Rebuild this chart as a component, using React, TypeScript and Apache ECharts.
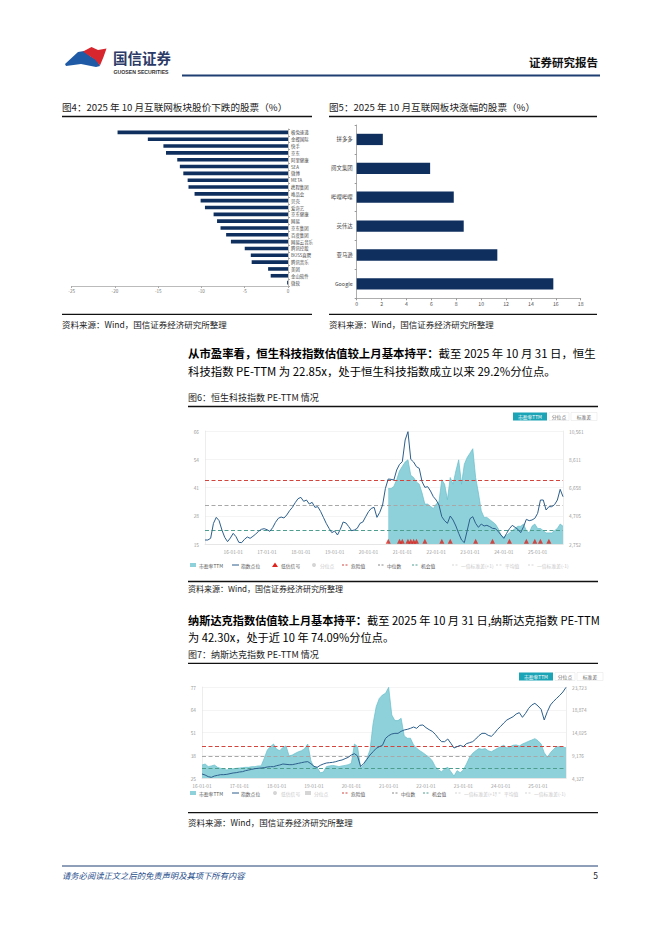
import React, { useEffect, useRef } from "react";
import * as echarts from "echarts";

const FONT = '"Noto Sans CJK SC", "Noto Sans", sans-serif';

// ---------- Figure 4 ----------
const fig4Names = ["极兔速递", "金蝶国际", "快手", "京东", "阿里健康", "SEA", "微博", "META", "携程集团", "唯品会", "贝壳", "爱奇艺", "京东健康", "网易", "京东集团", "百度集团", "网易云音乐", "腾讯控股", "BOSS直聘", "腾讯音乐", "美团", "金山软件", "微软"];
const fig4Values = [-19.7, -16.2, -14.4, -14.1, -12.8, -12.5, -12.1, -11.6, -11.5, -10.8, -10.1, -9.6, -8.6, -8.2, -7.8, -7.15, -6.6, -5.0, -4.3, -4.2, -2.3, -2.0, -0.1];

// ---------- Figure 5 ----------
const fig5Names = ["拼多多", "阅文集团", "哔哩哔哩", "英伟达", "亚马逊", "Google"];
const fig5Values = [2.1, 5.9, 7.8, 8.6, 11.3, 15.8];

// ---------- Figure 6 (HSTECH, monthly from 2015-03) ----------
const hstStartYear = 2015;
const hstStartMonth = 3;
const hstIndex = [3028, 3028, 3144, 4180, 4594, 4364, 3719, 3213, 2913, 3167, 3489, 3259, 2867, 2844, 3074, 3236, 3144, 3282, 3443, 3627, 3765, 3811, 3742, 3627, 3880, 4249, 4525, 4617, 4548, 4756, 5055, 5285, 5608, 5884, 5976, 5700, 5792, 5516, 5631, 5285, 5331, 5009, 4594, 4180, 3834, 3535, 3650, 3374, 3765, 4272, 4203, 3950, 3673, 3719, 3834, 4180, 4272, 4640, 4986, 5216, 5285, 4594, 4940, 5447, 6598, 7243, 7220, 7174, 7865, 8256, 8440, 9937, 10513, 8602, 8417, 8095, 7980, 7059, 6667, 6713, 6414, 6022, 5792, 5447, 4640, 4364, 4180, 4687, 4410, 3996, 3489, 3028, 2844, 3673, 4502, 4640, 4180, 3904, 4134, 3996, 4042, 3950, 3834, 3811, 3627, 3374, 3144, 3489, 3811, 4042, 3904, 3765, 3535, 3950, 4456, 4364, 4410, 4525, 4871, 5792, 5792, 5101, 5331, 5331, 5469, 5792, 6529, 6022];
const hstPEStart = "20-08";
const hstPE = [40, 40, 41, 44, 48, 50, 52, 53, 46, 45, 43, 42, 38, 33, 33, 32, 31, 33, 34, 44, 42, 35, 45, 42, 48, 53, 42, 51, 54, 56, 58, 45, 38, 30, 27, 27, 26, 25, 24, 22, 19, 18, 19, 20, 21, 22, 23, 23, 24, 21, 20, 23, 24, 22, 22, 21, 20, 20, 20, 21, 22, 24, 23];
const hstSignals = ["20-08", "20-12", "21-01", "21-03", "21-04", "21-05", "21-06", "21-09", "22-03", "22-06", "23-03", "23-09", "24-03", "24-09", "24-12", "25-02", "25-05"];
const hstLeftLabels = ["15", "28", "41", "54", "66"];
const hstRightLabels = ["2,752", "4,705", "6,658", "8,611", "10,561"];
const hstDanger = 43.6;
const hstMedian = 32.5;
const hstChance = 21.3;

// ---------- Figure 7 (Nasdaq, monthly from 2016-01) ----------
const ndqStartYear = 2016;
const ndqStartMonth = 1;
const ndqIndex = [5180, 4966, 4611, 4469, 4753, 4895, 5038, 5038, 5109, 5251, 5393, 5464, 5606, 5677, 5890, 6032, 6174, 6316, 6387, 6459, 6530, 6672, 6743, 6743, 6956, 7098, 7311, 7240, 7169, 7169, 7311, 7453, 7595, 7737, 7808, 7382, 6814, 6601, 7027, 7311, 7524, 7595, 7666, 7808, 8022, 8164, 8448, 8732, 9230, 9514, 9016, 6743, 7453, 8306, 9230, 9940, 10650, 11006, 11290, 12782, 13351, 13706, 13848, 13848, 14274, 14558, 14700, 14913, 15197, 14913, 15553, 15624, 15056, 14629, 14274, 13634, 12782, 12072, 12072, 12640, 11716, 10722, 11006, 11290, 11006, 11645, 11858, 12072, 12640, 13351, 13848, 13848, 13421, 13208, 13848, 14700, 15340, 16050, 16690, 17046, 17400, 17969, 18253, 17258, 18111, 19177, 19888, 20242, 19674, 18963, 16690, 18466, 19888, 20669, 21308, 21947, 22658, 23653];
const ndqPE = [32.4, 33.0, 31.5, 31.9, 32.4, 31.1, 30.5, 30.0, 29.6, 30.0, 30.3, 30.5, 30.7, 30.9, 31.1, 31.1, 31.5, 31.5, 31.9, 31.9, 36.2, 41.0, 42.9, 44.4, 41.4, 40.6, 42.5, 43.3, 37.6, 38.1, 39.1, 40.0, 40.6, 41.8, 44.4, 34.9, 31.1, 31.1, 28.0, 28.4, 31.5, 31.9, 32.2, 31.9, 31.5, 31.9, 32.2, 32.6, 33.4, 44.4, 42.9, 30.5, 32.4, 36.2, 41.0, 56.2, 65.8, 70.5, 72.4, 73.4, 76.8, 61.0, 57.8, 57.8, 59.1, 49.0, 47.7, 47.7, 43.9, 42.0, 40.6, 39.5, 38.1, 36.8, 34.9, 31.5, 29.6, 28.6, 30.3, 31.1, 28.6, 26.1, 29.2, 28.0, 29.6, 33.0, 36.8, 39.1, 40.6, 41.8, 41.4, 41.8, 40.6, 40.0, 41.0, 42.0, 42.9, 43.7, 42.1, 42.9, 43.7, 43.9, 43.3, 44.4, 45.2, 46.0, 46.7, 47.5, 46.3, 44.4, 39.5, 36.8, 39.5, 41.4, 42.9, 42.9, 42.5, 42.3];
const ndqLeftLabels = ["25", "38", "51", "64", "77"];
const ndqRightLabels = ["4,327", "9,176", "14,025", "18,874", "23,723"];
const ndqDanger = 43.3;
const ndqMedian = 37.6;
const ndqChance = 30.3;

function monthCats(y0: number, m0: number, n: number): string[] {
  const out: string[] = [];
  let y = y0, m = m0;
  for (let i = 0; i < n; i++) {
    out.push(String(y % 100).padStart(2, "0") + "-" + String(m).padStart(2, "0"));
    m++;
    if (m > 12) { m = 1; y++; }
  }
  return out;
}

const TEAL_FILL = "#8fd1da";
const TEAL_LINE = "#66bfcb";
const INDEX_LINE = "#2c5f8c";
const RED_D = "#d2443c";
const GRAY_D = "#a8a8a8";
const GREEN_D = "#4e9e90";

function txt(x: number, y: number, text: string, size: number, opts: any = {}) {
  return {
    type: "text",
    silent: true,
    style: {
      x, y, text,
      fontSize: size,
      fontFamily: opts.family || FONT,
      fontWeight: opts.weight || "normal",
      fontStyle: opts.style || "normal",
      fill: opts.fill || "#222",
      align: opts.align || "left",
      verticalAlign: "middle",
    },
  };
}
function hline(x1: number, x2: number, y: number, color: string, w: number) {
  return { type: "line", silent: true, shape: { x1, y1: y, x2, y2: y }, style: { stroke: color, lineWidth: w } };
}

type LegItem = { x: number; kind: string; color: string; text: string; faded?: boolean };
function legend(y: number, items: LegItem[]) {
  const els: any[] = [];
  items.forEach((it) => {
    const c = it.faded ? "#d5d5d5" : it.color;
    if (it.kind === "rect") {
      els.push({ type: "rect", silent: true, shape: { x: it.x, y: y - 2, width: 6, height: 4 }, style: { fill: c } });
    } else if (it.kind === "line") {
      els.push({ type: "line", silent: true, shape: { x1: it.x, y1: y, x2: it.x + 7, y2: y }, style: { stroke: c, lineWidth: 1 } });
    } else if (it.kind === "dash") {
      els.push({ type: "line", silent: true, shape: { x1: it.x, y1: y, x2: it.x + 7, y2: y }, style: { stroke: c, lineWidth: 1, lineDash: [2, 1.5] } });
    } else if (it.kind === "tri") {
      els.push({ type: "polygon", silent: true, shape: { points: [[it.x + 3, y - 2.5], [it.x + 6, y + 2], [it.x, y + 2]] }, style: { fill: c } });
    } else if (it.kind === "circle") {
      els.push({ type: "circle", silent: true, shape: { cx: it.x + 3, cy: y, r: 2 }, style: { fill: c } });
    }
    els.push(txt(it.x + 9, y, it.text, 4.8, { fill: it.faded ? "#c8c8c8" : "#555" }));
  });
  return els;
}

function buttons(x: number, y: number) {
  return [
    { type: "rect", silent: true, shape: { x, y, width: 34, height: 8 }, style: { fill: "#1ba3b6" } },
    txt(x + 17, y + 4, "市盈率TTM", 4.8, { fill: "#fff", align: "center" }),
    { type: "rect", silent: true, shape: { x: x + 36, y, width: 20, height: 8 }, style: { fill: "#fff", stroke: "#e2e2e2", lineWidth: 0.5 } },
    txt(x + 46, y + 4, "分位点", 4.8, { fill: "#666", align: "center" }),
    { type: "rect", silent: true, shape: { x: x + 58, y, width: 26, height: 8 }, style: { fill: "#fff", stroke: "#e2e2e2", lineWidth: 0.5 } },
    txt(x + 71, y + 4, "标准差", 4.8, { fill: "#666", align: "center" }),
  ];
}

export default function App() {
  const ref = useRef<HTMLDivElement>(null);
  useEffect(() => {
    if (!ref.current) return;
    const chart = echarts.init(ref.current, undefined, { renderer: "svg" });

    const hstCats = monthCats(hstStartYear, hstStartMonth, hstIndex.length);
    const peOffset = hstCats.indexOf(hstPEStart);
    const hstPEFull = hstCats.map((_, i) => (i >= peOffset ? hstPE[i - peOffset] : null));
    const ndqCats = monthCats(ndqStartYear, ndqStartMonth, ndqIndex.length);

    const labelFromArray = (arr: string[], min: number, interval: number) => (v: number) => {
      const i = Math.round((v - min) / interval);
      return arr[i] ?? "";
    };

    const smallAxisLabel = { fontSize: 4.8, color: "#999", fontFamily: FONT };

    const timeXAxis = (gridIndex: number, data: string[]) => ({
      type: "category",
      gridIndex,
      data,
      boundaryGap: false,
      axisLine: { show: true, lineStyle: { color: "#dcdcdc", width: 0.6 } },
      axisTick: { show: false },
      axisLabel: {
        ...smallAxisLabel,
        margin: 5,
        interval: (_i: number, v: string) => v.endsWith("-01"),
        formatter: (v: string) => v + "-01",
      },
      splitLine: { show: false },
    });

    const valueY = (gridIndex: number, min: number, max: number, labels: string[], pos: string, split: boolean) => {
      const interval = (max - min) / 4;
      return {
        type: "value",
        gridIndex,
        position: pos,
        min, max, interval,
        axisLine: { show: true, lineStyle: { color: "#e0e0e0", width: 0.6 } },
        axisTick: { show: false },
        axisLabel: { ...smallAxisLabel, margin: 6, formatter: labelFromArray(labels, min, interval) },
        splitLine: { show: split, lineStyle: { color: "#ececec", width: 0.6 } },
      };
    };

    const markLines = (d: number, m: number, c: number) => ({
      silent: true,
      symbol: "none",
      label: { show: false },
      data: [
        { yAxis: d, lineStyle: { color: RED_D, type: [4, 2.5], width: 1 } },
        { yAxis: m, lineStyle: { color: GRAY_D, type: [4, 2.5], width: 1 } },
        { yAxis: c, lineStyle: { color: GREEN_D, type: [4, 2.5], width: 1 } },
      ],
    });

    const graphic: any[] = [
      // logo
      { type: "polygon", silent: true, shape: { points: [[65, 64], [78, 52], [84, 51], [90, 56], [97, 60], [100, 66], [96, 67], [81, 64], [66, 66]] }, style: { fill: "#1f5aa6" } },
      { type: "polygon", silent: true, shape: { points: [[83, 51.5], [91.5, 47], [98, 50], [106.5, 48.5], [103.5, 57], [100, 65.5], [95, 59.5], [88, 55]] }, style: { fill: "#d7262e" } },
      txt(113, 57, "国信证券", 14.5, { weight: "bold", fill: "#2b3a66" }),
      txt(113.5, 71.5, "GUOSEN SECURITIES", 5.2, { weight: "bold", fill: "#333", family: '"Liberation Sans", Arial, sans-serif' }),
      txt(598, 62, "证券研究报告", 11.5, { weight: "bold", align: "right", fill: "#111" }),
      hline(182, 600, 75.5, "#1f3f73", 2),

      // fig 4 / 5 titles & sources
      txt(62, 106.5, "图4：2025 年 10 月互联网板块股价下跌的股票（%）", 9.6, { fill: "#222" }),
      hline(62, 312, 116.5, "#111", 1.3),
      hline(62, 312, 314.3, "#111", 1.3),
      txt(62, 323.5, "资料来源：Wind，国信证券经济研究所整理", 8.5, { fill: "#222" }),
      txt(329, 106.5, "图5：2025 年 10 月互联网板块涨幅的股票（%）", 9.6, { fill: "#222" }),
      hline(329, 597, 116.5, "#111", 1.3),
      hline(329, 597, 314.3, "#111", 1.3),
      txt(329, 323.5, "资料来源：Wind，国信证券经济研究所整理", 8.5, { fill: "#222" }),

      // paragraph 1
      {
        type: "text", silent: true,
        style: {
          x: 188, y: 353, verticalAlign: "middle",
          text: "{b|从市盈率看，恒生科技指数估值较上月基本持平：}{n|截至 2025 年 10 月 31 日，恒生}",
          rich: {
            b: { fontSize: 11.4, fontWeight: "bold", fontFamily: FONT, fill: "#000" },
            n: { fontSize: 11.4, fontFamily: FONT, fill: "#000" },
          },
        },
      },
      txt(188, 370.5, "科技指数 PE-TTM 为 22.85x，处于恒生科技指数成立以来 29.2%分位点。", 11.4, { fill: "#000" }),

      // fig 6
      txt(188, 397, "图6：恒生科技指数 PE-TTM 情况", 9, { fill: "#222" }),
      hline(188, 598, 406.5, "#111", 1.3),
      ...buttons(513, 412.5),
      ...legend(565, [
        { x: 190, kind: "rect", color: TEAL_FILL, text: "市盈率TTM" },
        { x: 232, kind: "line", color: INDEX_LINE, text: "指数点位" },
        { x: 272, kind: "tri", color: "#e0231c", text: "低估信号" },
        { x: 311, kind: "circle", color: "#ccc", text: "分位点", faded: true },
        { x: 342, kind: "dash", color: RED_D, text: "危险值" },
        { x: 378, kind: "dash", color: "#888", text: "中位数" },
        { x: 412, kind: "dash", color: GREEN_D, text: "机会值" },
        { x: 452, kind: "dash", color: "#ccc", text: "一倍标准差(+1)", faded: true },
        { x: 496, kind: "dash", color: "#ccc", text: "平均值", faded: true },
        { x: 528, kind: "dash", color: "#ccc", text: "一倍标准差(-1)", faded: true },
      ]),
      hline(188, 598, 581.5, "#111", 1.3),
      txt(188, 588.5, "资料来源：Wind，国信证券经济研究所整理", 8, { fill: "#222" }),

      // paragraph 2
      {
        type: "text", silent: true,
        style: {
          x: 188, y: 620, verticalAlign: "middle",
          text: "{b|纳斯达克指数估值较上月基本持平：}{n|截至 2025 年 10 月 31 日,纳斯达克指数 PE-TTM}",
          rich: {
            b: { fontSize: 11.2, fontWeight: "bold", fontFamily: FONT, fill: "#000" },
            n: { fontSize: 11.2, fontFamily: FONT, fill: "#000" },
          },
        },
      },
      txt(188, 637, "为 42.30x，处于近 10 年 74.09%分位点。", 11.2, { fill: "#000" }),

      // fig 7
      txt(188, 654.5, "图7：纳斯达克指数 PE-TTM 情况", 9, { fill: "#222" }),
      hline(188, 598, 663.3, "#111", 1.3),
      ...buttons(519, 672.5),
      ...legend(793, [
        { x: 190, kind: "rect", color: TEAL_FILL, text: "市盈率TTM" },
        { x: 232, kind: "line", color: INDEX_LINE, text: "指数点位" },
        { x: 272, kind: "circle", color: "#ccc", text: "低估信号", faded: true },
        { x: 305, kind: "rect", color: "#ccc", text: "分位点", faded: true },
        { x: 342, kind: "dash", color: RED_D, text: "危险值" },
        { x: 392, kind: "dash", color: "#888", text: "中位数" },
        { x: 423, kind: "dash", color: GREEN_D, text: "机会值" },
        { x: 455, kind: "dash", color: "#ccc", text: "一倍标准差(+1)", faded: true },
        { x: 495, kind: "dash", color: "#ccc", text: "平均值", faded: true },
        { x: 525, kind: "dash", color: "#ccc", text: "一倍标准差(-1)", faded: true },
      ]),
      hline(188, 598, 812.7, "#111", 1.3),
      txt(188, 821.5, "资料来源：Wind，国信证券经济研究所整理", 8.5, { fill: "#222" }),

      // footer
      hline(62, 598, 866, "#1f3f73", 1),
      txt(62, 874.5, "请务必阅读正文之后的免责声明及其项下所有内容", 8.3, { fill: "#1f4e8c", style: "italic" }),
      txt(598, 874.5, "5", 8.5, { fill: "#222", align: "right" }),
    ];

    const option: any = {
      animation: false,
      backgroundColor: "#fff",
      textStyle: { fontFamily: FONT },
      grid: [
        { left: 71.7, top: 129, width: 216.3, height: 157 },
        { left: 356.7, top: 125, width: 224, height: 173.3 },
        { left: 205, top: 431, width: 358, height: 113 },
        { left: 202, top: 687, width: 364, height: 91 },
      ],
      xAxis: [
        {
          type: "value", gridIndex: 0, min: -25, max: 0, interval: 5,
          axisLine: { show: true, lineStyle: { color: "#aaa", width: 0.8 } },
          axisTick: { show: true, length: 2, lineStyle: { color: "#aaa" } },
          axisLabel: { fontSize: 4.6, color: "#777", margin: 3 },
          splitLine: { show: false },
        },
        {
          type: "value", gridIndex: 1, min: 0, max: 18, interval: 2,
          axisLine: { show: true, lineStyle: { color: "#999", width: 0.8 } },
          axisTick: { show: true, length: 2, lineStyle: { color: "#999" } },
          axisLabel: { fontSize: 5.2, color: "#555", margin: 3 },
          splitLine: { show: false },
        },
        timeXAxis(2, hstCats),
        timeXAxis(3, ndqCats),
      ],
      yAxis: [
        {
          type: "category", gridIndex: 0, data: fig4Names, inverse: true, position: "right",
          axisLine: { show: true, lineStyle: { color: "#aaa", width: 0.8 } },
          axisTick: { show: true, length: 2, lineStyle: { color: "#aaa" } },
          axisLabel: { fontSize: 4.4, color: "#444", margin: 3, interval: 0 },
        },
        {
          type: "category", gridIndex: 1, data: fig5Names, inverse: true,
          axisLine: { show: true, lineStyle: { color: "#999", width: 0.8 } },
          axisTick: { show: true, length: 2, lineStyle: { color: "#999" } },
          axisLabel: { fontSize: 5.4, color: "#444", margin: 4, interval: 0 },
        },
        valueY(2, 15, 66, hstLeftLabels, "left", true),
        valueY(2, 2752, 10561, hstRightLabels, "right", false),
        valueY(3, 25, 77, ndqLeftLabels, "left", true),
        valueY(3, 4327, 23723, ndqRightLabels, "right", false),
      ],
      series: [
        { type: "bar", xAxisIndex: 0, yAxisIndex: 0, data: fig4Values, barWidth: 3.6, itemStyle: { color: "#0f2f5e" } },
        { type: "bar", xAxisIndex: 1, yAxisIndex: 1, data: fig5Values, barWidth: 11.3, itemStyle: { color: "#0f2f5e" } },
        {
          name: "市盈率TTM", type: "line", xAxisIndex: 2, yAxisIndex: 2, data: hstPEFull, showSymbol: false, z: 1,
          lineStyle: { color: TEAL_LINE, width: 0.7 }, areaStyle: { color: TEAL_FILL, opacity: 1 },
          markLine: markLines(hstDanger, hstMedian, hstChance),
        },
        {
          name: "指数点位", type: "line", xAxisIndex: 2, yAxisIndex: 3, data: hstIndex, showSymbol: false, z: 6,
          lineStyle: { color: INDEX_LINE, width: 1 },
        },
        {
          name: "信号", type: "scatter", xAxisIndex: 2, yAxisIndex: 2, z: 7,
          data: hstSignals.map((c) => [c, 16.2]), symbol: "triangle", symbolSize: 5,
          itemStyle: { color: "#e0231c" },
        },
        {
          name: "市盈率TTM2", type: "line", xAxisIndex: 3, yAxisIndex: 4, data: ndqPE, showSymbol: false, z: 1,
          lineStyle: { color: TEAL_LINE, width: 0.7 }, areaStyle: { color: TEAL_FILL, opacity: 1 },
          markLine: markLines(ndqDanger, ndqMedian, ndqChance),
        },
        {
          name: "指数点位2", type: "line", xAxisIndex: 3, yAxisIndex: 5, data: ndqIndex, showSymbol: false, z: 6,
          lineStyle: { color: INDEX_LINE, width: 1 },
        },
      ],
      graphic,
    };
    chart.setOption(option);
    return () => chart.dispose();
  }, []);
  return <div ref={ref} style={{ position: "absolute", left: 0, top: 0, width: 662, height: 936, background: "#fff" }} />;
}
